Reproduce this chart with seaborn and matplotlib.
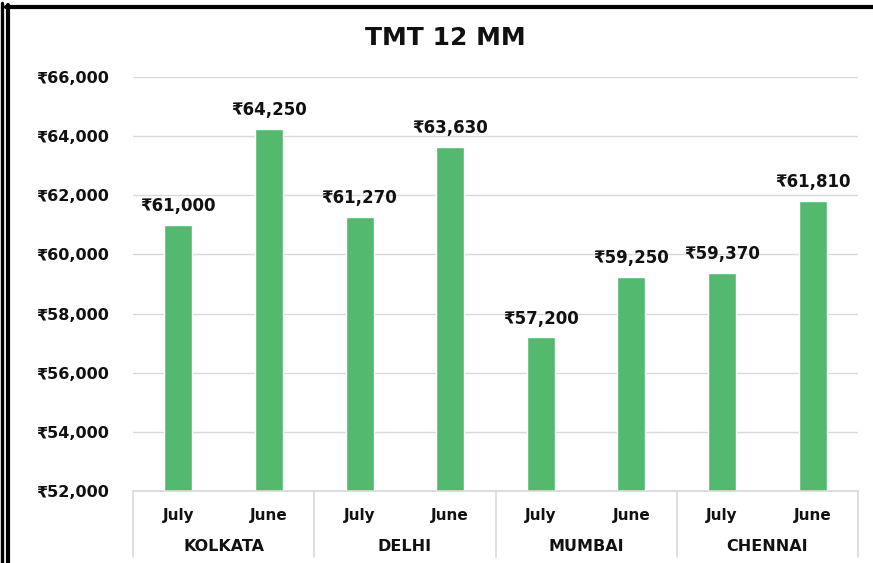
import pandas as pd
import matplotlib
matplotlib.use("Agg")
import matplotlib.pyplot as plt
from matplotlib.lines import Line2D
import seaborn as sns

cities = ["KOLKATA", "DELHI", "MUMBAI", "CHENNAI"]
months = ["July", "June"]
prices = [61000, 64250, 61270, 63630, 57200, 59250, 59370, 61810]

sns.set_theme(style="white")
plt.rcParams['font.family'] = ['DejaVu Sans']

rows = []
for i, city in enumerate(cities):
    for j, m in enumerate(months):
        rows.append({"slot": f"{city}|{m}", "city": city, "month": m, "price": prices[i * 2 + j]})
df = pd.DataFrame(rows)

W, H = 873, 563
fig = plt.figure(figsize=(W / 100, H / 100), dpi=100)
ax = fig.add_axes([133 / W, 1 - 491 / H, (858 - 133) / W, (491 - 77) / H])

green = "#53B96F"
txt = "#111111"
sns.barplot(data=df, x="slot", y="price", color=green, width=0.31, ax=ax, saturation=1)

ax.set_ylim(52000, 66000)
ax.set_xlim(-0.5, len(df) - 0.5)
ticks = list(range(52000, 66001, 2000))
ax.set_yticks(ticks)
ax.set_yticklabels([f"₹{t:,}" for t in ticks], fontsize=11.5, fontweight="bold", color=txt)
ax.yaxis.grid(True, color="#D9D9D9", linewidth=1)
ax.set_axisbelow(True)
for s in ["left", "right", "top"]:
    ax.spines[s].set_visible(False)
ax.spines["bottom"].set_color("#D9D9D9")
ax.tick_params(axis="y", length=0, pad=17)
ax.tick_params(axis="x", length=0, pad=12)
ax.set_xticks(range(len(df)))
ax.set_xticklabels(df["month"], fontsize=11, fontweight="bold", color=txt)
ax.set_xlabel("")
ax.set_ylabel("")

for c in ax.containers:
    ax.bar_label(c, labels=[f"₹{v:,.0f}" for v in c.datavalues], padding=7,
                 fontsize=12, fontweight="bold", color=txt)

# city names and group separators
trans = ax.get_xaxis_transform()
for i, city in enumerate(cities):
    ax.text(i * 2 + 0.5, -0.135, city, transform=trans, ha="center", va="center",
            fontsize=11.5, fontweight="bold", color=txt)
for k in range(len(cities) + 1):
    ax.add_line(Line2D([k * 2 - 0.5, k * 2 - 0.5], [0, -0.159], transform=trans,
                       color="#D9D9D9", linewidth=1.2, clip_on=False))

fig.text(445 / W, 1 - 38 / H, "TMT 12 MM", ha="center", va="center",
         fontsize=18, fontweight="bold", color=txt)

# black frame on left and top
fig.add_artist(Line2D([1.5 / W, 1.5 / W], [0, 1 - 3 / H], color="black", linewidth=2.4))
fig.add_artist(Line2D([8 / W, 8 / W], [0, 1 - 5 / H], color="black", linewidth=3))
fig.add_artist(Line2D([6 / W, 1], [1 - 7 / H, 1 - 7 / H], color="black", linewidth=3))

fig.savefig("out.png", dpi=100)
